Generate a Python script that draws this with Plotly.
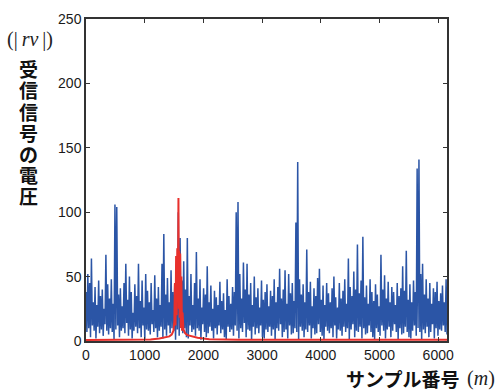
import numpy as np
import plotly.graph_objects as go

# Received-signal magnitude |rv|: alternating local maxima / minima of the trace
blue_peaks = [
    38, 52, 45, 64, 30, 42, 28, 47, 35, 40, 25, 67, 44, 33, 48, 29, 106, 104, 36, 41,
    27, 45, 60, 32, 50, 38, 22, 44, 35, 60, 31, 47, 26, 52, 39, 30, 45, 24, 51, 33,
    42, 28, 60, 83, 36, 49, 30, 55, 38, 44, 58, 100, 80, 47, 62, 40, 80, 35, 52, 28,
    45, 69, 33, 48, 26, 41, 36, 58, 30, 43, 25, 39, 34, 28, 46, 31, 37, 24, 48, 35,
    29, 42, 38, 100, 108, 52, 33, 61, 40, 60, 36, 45, 28, 50, 34, 41, 26, 47, 32, 38,
    44, 27, 39, 35, 48, 30, 42, 56, 33, 40, 55, 29, 52, 37, 45, 31, 92, 139, 48, 36,
    44, 30, 71, 38, 46, 27, 41, 35, 49, 56, 32, 43, 28, 45, 37, 30, 41, 50, 34, 26,
    45, 33, 39, 48, 29, 64, 42, 35, 54, 40, 75, 37, 47, 81, 34, 43, 29, 48, 38, 31,
    44, 36, 27, 67, 40, 51, 33, 46, 30, 42, 38, 28, 45, 35, 41, 58, 39, 70, 32, 44,
    30, 47, 38, 134, 141, 52, 60, 36, 48, 33, 45, 29, 41, 38, 46, 31, 37, 43, 30, 48,
]
blue_troughs = [
    7, 10, 3, 12, 8, 2, 11, 6, 9, 4, 13, 8, 5, 10, 7, 1, 9, 12, 3, 8,
    10, 6, 14, 4, 9, 2, 8, 11, 6, 10, 3, 12, 1, 9, 8, 5, 13, 7, 10, 3,
    8, 11, 2, 9, 4, 12, 6, 10, 8, 1, 9, 4, 11, 6, 10, 3, 2, 12, 7, 9,
    4, 10, 8, 1, 13, 7, 3, 6, 11, 8, 2, 10, 5, 12, 6, 9, 3, 1, 11, 7,
    9, 4, 12, 8, 2, 10, 7, 14, 3, 9, 8, 1, 11, 5, 10, 6, 12, 3, 2, 9,
    7, 11, 4, 9, 1, 10, 8, 13, 3, 7, 9, 2, 12, 5, 6, 10, 7, 1, 11, 8,
    3, 9, 7, 12, 2, 10, 5, 6, 13, 7, 4, 1, 11, 8, 6, 10, 3, 12, 2, 9,
    8, 4, 11, 7, 10, 1, 9, 13, 3, 8, 7, 11, 2, 10, 5, 6, 12, 7, 3, 1,
    10, 7, 4, 12, 8, 2, 9, 11, 3, 8, 13, 7, 1, 10, 5, 6, 11, 7, 3, 2,
    8, 12, 4, 10, 7, 1, 9, 6, 11, 3, 7, 13, 2, 10, 4, 9, 8, 12, 7, 5,
]

# Matched-filter output (red): sample number and value
red_x = [0, 600, 1100, 1250, 1350, 1420, 1460, 1490, 1505, 1515, 1525, 1535, 1545,
         1555, 1565, 1575, 1582, 1588, 1595, 1605, 1615, 1625, 1635, 1645, 1660,
         1690, 1730, 1800, 1900, 2000, 2100, 2600, 6150]
red_y = [0.8, 0.9, 1.2, 2.0, 2.8, 3.6, 5, 8, 15, 45, 12, 66, 20,
         72, 30, 111, 25, 70, 18, 68, 10, 50, 8, 22, 9,
         6, 4.5, 3.5, 2.6, 2.0, 1.3, 1.0, 0.9]

x_max = 6150
x_ticks = [0, 1000, 2000, 3000, 4000, 5000, 6000]
y_ticks = [0, 50, 100, 150, 200, 250]

blue_vals = [v for pair in zip(blue_peaks, blue_troughs) for v in pair]
blue_x = np.arange(len(blue_vals)) * x_max / (len(blue_vals) - 1)

W, H = 504, 392
L, R, T, B = 86, 57, 11, 51
PW, PH = W - L - R, H - T - B


def px(xp):
    return (xp - L) / PW


def py(yp):
    return (H - B - yp) / PH


fig = go.Figure()
fig.add_trace(go.Scatter(x=blue_x, y=blue_vals, mode="lines",
                         line=dict(color="#2b55a6", width=1.5), hoverinfo="skip"))
fig.add_trace(go.Scatter(x=red_x, y=red_y, mode="lines",
                         line=dict(color="#e8302c", width=2), hoverinfo="skip"))

axis_style = dict(
    showline=True, linecolor="#333333", linewidth=1.5, mirror="ticks",
    ticks="inside", ticklen=4, tickcolor="#333333", tickwidth=1,
    showgrid=False, zeroline=False,
    tickfont=dict(family="Liberation Sans, Arial", size=14, color="#1a1a1a"),
)

jp_font = dict(family="Noto Sans CJK JP", size=19, color="#111111")
serif_font = dict(family="Liberation Serif, Times New Roman", size=20, color="#222222")

annotations = []
# vertical axis title, one glyph per stacked box
for i, ch in enumerate("受信信号の電圧"):
    annotations.append(dict(
        text="<b>%s</b>" % ch, xref="paper", yref="paper",
        x=px(28), y=py(62 + i * 21.7), xanchor="center", yanchor="middle",
        height=21, valign="middle", showarrow=False, font=jp_font))
annotations += [
    dict(text="(|\u2009<i>rv</i>\u2009|)", xref="paper", yref="paper",
         x=px(30), y=py(32), xanchor="center", yanchor="middle", showarrow=False,
         font=serif_font),
    dict(text="<b>サンプル番号</b>", xref="paper", yref="paper",
         x=px(402), y=py(379), xanchor="center", yanchor="middle", showarrow=False,
         font=jp_font),
    dict(text="(<i>m</i>)", xref="paper", yref="paper",
         x=px(481), y=py(379), xanchor="center", yanchor="middle", showarrow=False,
         font=serif_font),
]

fig.update_layout(
    width=W, height=H,
    margin=dict(l=L, r=R, t=T, b=B),
    paper_bgcolor="white", plot_bgcolor="white",
    showlegend=False,
    xaxis=dict(range=[0, x_max], tickvals=x_ticks, **axis_style),
    yaxis=dict(range=[0, 250], tickvals=y_ticks, **axis_style),
    annotations=annotations,
)

fig.write_html("out.html")
